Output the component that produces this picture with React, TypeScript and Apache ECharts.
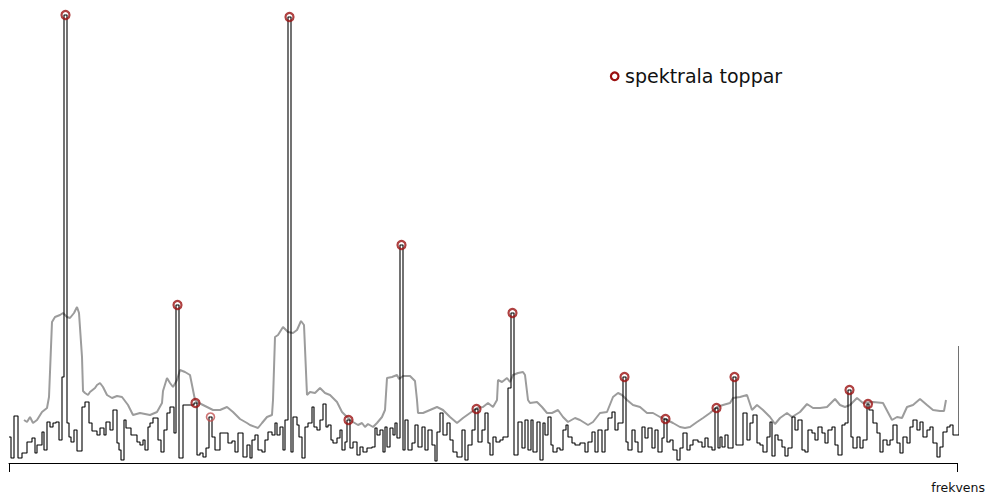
import React, { useEffect, useRef } from "react";
import * as echarts from "echarts";

// Spectrum (step line): frequency where each level starts, and its power level
const specFreq = [9,11,14,18,22,27,32,35,37,42,44,47,50,53,56,59,62,64,67,69,71,74,77,82,85,89,92,97,100,104,106,110,113,117,119,121,124,126,131,137,140,143,145,148,150,153,158,161,164,167,170,174,176,179,183,194,197,200,203,206,209,212,215,220,228,232,235,238,243,247,250,252,255,258,262,265,268,272,275,277,280,283,285,288,291,293,297,299,302,305,308,312,314,317,320,323,326,328,331,333,337,340,342,345,347,350,353,357,360,363,367,372,375,377,380,383,385,387,390,393,395,397,400,403,405,408,412,415,418,422,425,428,432,435,437,440,443,447,450,453,457,462,465,468,472,475,478,482,485,488,490,493,496,500,503,508,511,514,518,522,525,528,531,533,537,540,543,545,548,551,553,557,560,563,566,568,572,575,580,585,588,592,595,598,602,605,608,612,615,618,623,626,628,632,635,638,642,645,648,652,655,658,662,664,667,670,673,677,680,683,687,690,693,698,702,705,708,712,715,718,720,722,725,728,733,736,743,747,750,753,757,760,763,767,770,772,775,778,782,785,788,792,795,798,802,805,808,812,815,818,822,825,828,832,835,838,842,845,848,851,853,857,860,863,867,869,873,877,880,883,887,890,893,897,900,903,907,910,913,917,920,923,927,930,933,937,940,943,947,950,953,959];
const specPower = [26,5,47,5,10,21,25,10,18,31,13,41,36,40,41,23,86,448,40,26,21,33,12,56,61,40,32,28,35,28,41,33,53,20,13,3,43,35,28,21,18,23,13,36,40,45,23,11,33,50,56,30,158,5,58,60,8,10,6,15,46,26,13,30,20,22,11,30,6,18,5,23,28,13,11,23,31,28,40,28,36,13,43,446,11,46,38,26,5,36,40,56,36,33,43,59,36,38,23,20,25,33,13,21,43,15,21,8,16,11,15,16,35,28,33,11,36,16,35,28,40,25,218,13,43,13,20,38,16,36,13,33,18,2,31,50,28,40,23,11,6,33,3,18,33,54,21,33,50,20,8,26,21,23,26,75,150,8,41,15,43,13,43,11,41,3,40,28,46,18,11,15,13,33,38,26,20,18,20,11,21,31,11,33,11,33,45,51,33,40,86,21,13,33,21,11,36,25,35,15,33,11,25,44,21,23,13,3,15,30,13,18,23,21,16,25,16,13,55,15,26,16,28,15,86,18,50,23,40,48,20,18,11,26,41,7,28,23,16,7,15,46,33,43,13,11,33,30,23,36,30,20,33,36,18,8,38,40,73,26,15,26,15,23,59,53,40,30,11,23,18,23,38,20,10,26,20,36,43,33,41,26,33,36,20,6,16,31,36,38,28,117];

// Smoothed background (grey line)
const smoothFreq = [24,27,30,33,37,42,47,49,52,55,60,63,67,70,74,77,79,82,83,85,88,90,95,97,100,103,107,112,117,122,128,133,140,150,157,162,163,167,170,173,177,180,185,190,193,195,197,203,213,220,227,233,240,247,250,258,262,267,272,273,275,278,283,288,293,297,301,304,307,310,315,320,325,330,337,342,347,353,358,362,365,368,373,377,382,385,387,392,397,399,403,410,415,417,418,423,430,437,443,450,457,463,470,477,483,488,493,497,498,502,507,510,513,518,523,525,528,530,537,542,547,552,558,563,568,575,580,588,593,600,607,613,618,622,627,633,640,647,653,660,667,673,680,685,690,697,703,710,717,723,730,733,740,747,752,757,763,770,775,780,787,792,800,807,813,820,827,835,840,845,850,857,863,873,883,892,897,902,907,913,920,927,933,940,944,946];
const smoothPower = [43,41,46,40,43,51,55,66,141,146,148,150,146,145,150,156,150,106,72,70,68,71,75,78,80,76,68,65,67,66,58,48,50,48,51,60,72,85,80,76,83,93,91,88,73,63,61,58,53,53,56,51,44,40,38,35,40,46,48,63,126,128,136,131,130,133,142,138,68,71,70,75,70,68,61,51,46,41,38,40,36,39,36,40,46,53,85,86,88,84,87,87,82,63,50,50,53,56,53,46,40,45,50,55,56,60,56,63,83,81,85,81,88,90,91,88,63,60,61,56,50,50,53,46,41,45,43,38,41,50,51,66,70,68,63,58,56,50,50,46,43,40,36,35,36,41,45,50,56,58,60,65,66,68,53,58,53,46,39,45,50,46,51,59,55,55,56,64,58,56,58,65,60,61,60,43,46,45,56,58,64,58,53,52,52,63];

// Spectral peaks (circles)
const peakFreq = [65.5,289.5,401.5,177.5,512.5,624.5,734.5,195.5,210.5,348.5,476.5,665.5,716.5,849.5,868];
const peakPower = [448,446,218,158,150,86,86,60,46,43,54,44,55,73,59];
const faintPeak = 210.5;

const legendLabel = "spektrala toppar";
const axisLabelText = "frekvens";
const freqMin = 9;
const freqMax = 957;

const PEAK_RED = "#9b1111";

export default function App() {
  const ref = useRef<HTMLDivElement>(null);
  useEffect(() => {
    if (!ref.current) return;
    const chart = echarts.init(ref.current, undefined, { renderer: "svg" });
    const specData = specFreq.map((f, i) => [f, specPower[i]]);
    const smoothData = smoothFreq.map((f, i) => [f, smoothPower[i]]);
    const peakData = peakFreq.map((f, i) => {
      const item: any = { value: [f, peakPower[i]] };
      if (f === faintPeak) {
        item.itemStyle = { borderColor: "#c05050", borderWidth: 1.6 };
      }
      return item;
    });
    chart.setOption({
      animation: false,
      backgroundColor: "#ffffff",
      grid: { left: 9, right: 30, top: 0, bottom: 32, containLabel: false },
      xAxis: {
        type: "value",
        min: freqMin,
        max: freqMax,
        axisLine: { show: true, lineStyle: { color: "#000", width: 1 } },
        axisTick: {
          show: true,
          customValues: [freqMin, freqMax],
          length: 9,
          lineStyle: { color: "#000", width: 1 },
        },
        axisLabel: { show: false },
        splitLine: { show: false },
      },
      yAxis: {
        type: "value",
        min: 0,
        max: 463,
        show: false,
        splitLine: { show: false },
      },
      series: [
        {
          type: "line",
          data: smoothData,
          showSymbol: false,
          symbol: "none",
          lineStyle: { color: "#9c9c9c", width: 2 },
          z: 2,
          silent: true,
        },
        {
          type: "line",
          step: "end",
          data: specData,
          showSymbol: false,
          symbol: "none",
          clip: false,
          lineStyle: { color: "#000000", width: 1.1 },
          z: 3,
          silent: true,
        },
        {
          type: "scatter",
          data: peakData,
          symbol: "circle",
          symbolSize: 8,
          itemStyle: { color: "rgba(0,0,0,0)", borderColor: PEAK_RED, borderWidth: 2.2 },
          z: 4,
          silent: true,
        },
      ],
      graphic: [
        {
          type: "circle",
          shape: { cx: 614.7, cy: 76.3, r: 3.8 },
          style: { fill: "none", stroke: PEAK_RED, lineWidth: 2.2 },
          silent: true,
        },
        {
          type: "text",
          x: 625,
          y: 76,
          style: {
            text: legendLabel,
            font: '19px "DejaVu Sans"',
            fill: "#111",
            verticalAlign: "middle",
            align: "left",
          },
          silent: true,
        },
        {
          type: "text",
          x: 985,
          y: 487.5,
          style: {
            text: axisLabelText,
            font: '12.5px "DejaVu Sans"',
            fill: "#111",
            verticalAlign: "middle",
            align: "right",
          },
          silent: true,
        },
      ],
    });
    return () => chart.dispose();
  }, []);
  return (
    <div
      ref={ref}
      style={{ position: "fixed", left: 0, top: 0, width: 987, height: 495 }}
    />
  );
}
